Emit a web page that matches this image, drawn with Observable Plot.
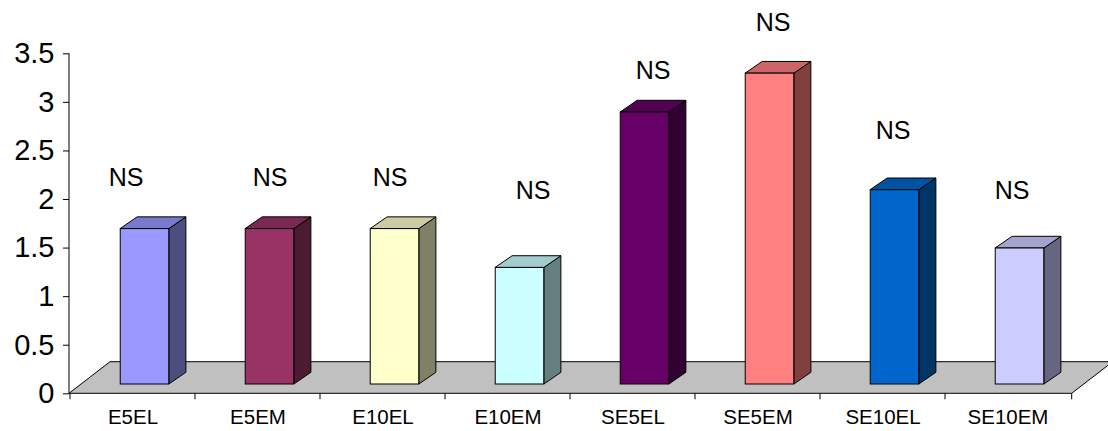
<!DOCTYPE html>
<html>
<head>
<meta charset="utf-8">
<script src="https://cdn.jsdelivr.net/npm/d3@7"></script>
<script src="https://cdn.jsdelivr.net/npm/@observablehq/plot@0.6"></script>
<style>
  html, body { margin: 0; padding: 0; background: #fff; }
</style>
</head>
<body>
<div id="chart"></div>
<script>
// Groups and their measured values
const categories = ["E5EL", "E5EM", "E10EL", "E10EM", "SE5EL", "SE5EM", "SE10EL", "SE10EM"];
const values = [1.6, 1.6, 1.6, 1.2, 2.8, 3.2, 2.0, 1.4];
const significance = ["NS", "NS", "NS", "NS", "NS", "NS", "NS", "NS"];
const yTicks = [0, 0.5, 1, 1.5, 2, 2.5, 3, 3.5];

// Column colours: front face, shaded side, lit top
const frontColors = ["#9999ff", "#993366", "#ffffcc", "#ccffff", "#660066", "#ff8080", "#0066cc", "#ccccff"];
const sideColors  = ["#4d4d80", "#4d1a33", "#808066", "#668080", "#330033", "#804040", "#003366", "#666680"];
const topColors   = ["#7a7acc", "#7a2952", "#cccca3", "#a3cccc", "#520052", "#cc6666", "#0052a3", "#a3a3cc"];

// Where each significance note sits: height on the value axis, horizontal nudge in px
const noteHeights = [2.22, 2.22, 2.22, 2.09, 3.32, 3.82, 2.71, 2.09];
const noteNudge = [-7, 12, 7, 25, 20, 15, 10, 4];

const bars = categories.map((c, i) => ({
  category: c,
  value: values[i],
  note: significance[i],
  front: frontColors[i],
  side: sideColors[i],
  top: topColors[i]
}));

// Layout and pseudo-3D geometry
const W = 1108, H = 431;
const mL = 69, mR = 36.3, mT = 53.3, mB = 37.7;
const barShare = 0.39;                 // column width as a share of the band
const bandW = (W - mL - mR) / categories.length;
const inset = bandW * (1 - barShare) / 2;
const near = [12, -9.3];               // front face offset from the front plane
const far = [29, -21];                 // back face offset
const floorDepth = [41, -31.6];        // depth of the floor slab
const font = "'Liberation Sans', Arial, sans-serif";

// Grey floor, value-axis line and category tick marks
function floorMark(index, {x, y}) {
  const [x0, x1] = x.range();
  const yb = y(0);
  const g = d3.create("svg:g");
  g.append("path")
    .attr("d", `M${x0},${yb}L${x1},${yb}L${x1 + floorDepth[0]},${yb + floorDepth[1]}L${x0 + floorDepth[0]},${yb + floorDepth[1]}Z`)
    .attr("fill", "#c0c0c0")
    .attr("stroke", "#000")
    .attr("stroke-width", 1);
  const edges = categories.map((c) => x(c)).concat([x1]);
  for (const e of edges) {
    g.append("line")
      .attr("x1", e).attr("x2", e)
      .attr("y1", yb).attr("y2", yb + 6)
      .attr("stroke", "#000");
  }
  g.append("line")
    .attr("x1", x0).attr("x2", x0)
    .attr("y1", y(0)).attr("y2", y(yTicks[yTicks.length - 1]))
    .attr("stroke", "#000");
  return g.node();
}

// Side and top faces of each column
function depthFaces(index, {x, y}) {
  const bw = x.bandwidth();
  const w = bw * barShare;
  const g = d3.create("svg:g").attr("stroke", "#000").attr("stroke-width", 1).attr("stroke-linejoin", "round");
  for (const b of bars) {
    const xl = x(b.category) + (bw - w) / 2;
    const xr = xl + w;
    const yv = y(b.value);
    const y0 = y(0);
    g.append("path")
      .attr("fill", b.side)
      .attr("d", `M${xr + near[0]},${y0 + near[1]}L${xr + near[0]},${yv + near[1]}L${xr + far[0]},${yv + far[1]}L${xr + far[0]},${y0 + far[1]}Z`);
    g.append("path")
      .attr("fill", b.top)
      .attr("d", `M${xl + near[0]},${yv + near[1]}L${xr + near[0]},${yv + near[1]}L${xr + far[0]},${yv + far[1]}L${xl + far[0]},${yv + far[1]}Z`);
  }
  return g.node();
}

const chart = Plot.plot({
  width: W,
  height: H,
  marginLeft: mL,
  marginRight: mR,
  marginTop: mT,
  marginBottom: mB,
  style: {background: "#fff", color: "#000", fontFamily: font},
  x: {domain: categories, padding: 0},
  y: {domain: [0, 3.5]},
  marks: [
    floorMark,
    depthFaces,
    Plot.barY(bars, {
      x: "category",
      y: "value",
      fill: "front",
      stroke: "#000",
      strokeWidth: 1,
      insetLeft: inset,
      insetRight: inset,
      dx: near[0],
      dy: near[1]
    }),
    Plot.axisY({
      ticks: yTicks,
      tickFormat: (d) => String(d),
      tickSize: 6,
      tickPadding: 9,
      fontSize: 29,
      label: null
    }),
    Plot.axisX({
      tickSize: 0,
      tickPadding: 16,
      fontSize: 20.5,
      label: null
    }),
    ...bars.map((b, i) => Plot.text([b], {
      x: "category",
      y: () => noteHeights[i],
      text: "note",
      dx: noteNudge[i],
      fontSize: 25,
      fill: "#000"
    }))
  ]
});

document.getElementById("chart").appendChild(chart);
</script>
</body>
</html>
